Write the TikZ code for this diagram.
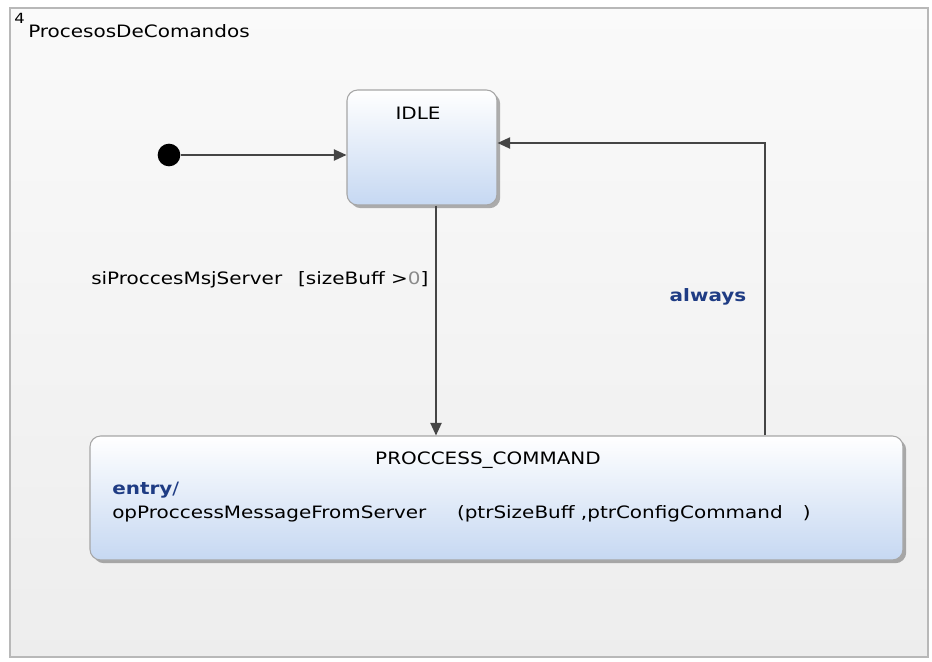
\documentclass[tikz,border=0pt]{standalone}
\usepackage{fontspec}
\setmainfont{DejaVu Sans}[FakeStretch=1.17]
\usetikzlibrary{arrows.meta,shadows}

\definecolor{stateblue}{HTML}{C6D8F2}
\definecolor{labelblue}{HTML}{1F3C84}
\definecolor{framegray}{HTML}{B8B8B8}
\definecolor{linegray}{HTML}{454545}
\definecolor{guardgray}{HTML}{8A8A8A}

\tikzset{
  state/.style={draw=black!35, line width=0.8pt, rounded corners=8pt,
    top color=white, bottom color=stateblue,
    drop shadow={shadow xshift=2.4pt, shadow yshift=-2.4pt, fill=black, opacity=0.3}},
  trans/.style={draw=linegray, line width=1pt, -{Triangle[length=9.5pt,width=8.5pt]}},
  txt/.style={inner sep=0pt, font=\fontsize{12.8}{15}\selectfont}
}

\begin{document}
\begin{tikzpicture}[x=0.75pt,y=-0.75pt]
\useasboundingbox (0,0) rectangle (932,661);

% frame of the state machine
\draw[framegray, line width=0.8pt, top color=black!2, bottom color=black!7] (10,8) rectangle (928,657);
\node[txt, font=\fontsize{10.5}{12}\selectfont, anchor=north west] (num) at (14,13) {4};
\node[txt, anchor=west] (title) at (28,31) {ProcesosDeComandos};

% states
\node[circle, fill=black, inner sep=0pt, minimum size=17pt] (init) at (169,155) {};
\node[state, minimum width=112.5pt, minimum height=86.25pt] (idle) at (422,147.5) {};
\node[txt, anchor=center] (idlename) at (418,113) {IDLE};

\node[state, minimum width=609.75pt, minimum height=93pt] (pc) at (496.5,498) {};
\node[txt] (pcname) at (488,460) {PROCCESS\_COMMAND};
\node[txt, anchor=west] (entry) at (112,490) {\textcolor{labelblue}{\textbf{entry}/}};
\node[txt, anchor=west] (action) at (112,514) {opProccessMessageFromServer\hspace{23pt}(ptrSizeBuff ,ptrConfigCommand\hspace{15pt})};

% transitions
\coordinate (down) at (436,0);
\coordinate (back) at (765,143);
\draw[trans] (init) -- (init -| idle.west);
\draw[trans] (idle.south -| down) -- (pc.north -| down);
\draw[trans] (pc.north -| back) -- (back) -- (back -| idle.east);

\node[txt, anchor=west] (guard) at (91,280) {siProccesMsjServer\hspace{12pt}[sizeBuff >\textcolor{guardgray}{0}]};
\node[txt, text=labelblue, font=\fontsize{12.8}{15}\selectfont\bfseries] (always) at (708,297) {always};
\end{tikzpicture}
\end{document}
